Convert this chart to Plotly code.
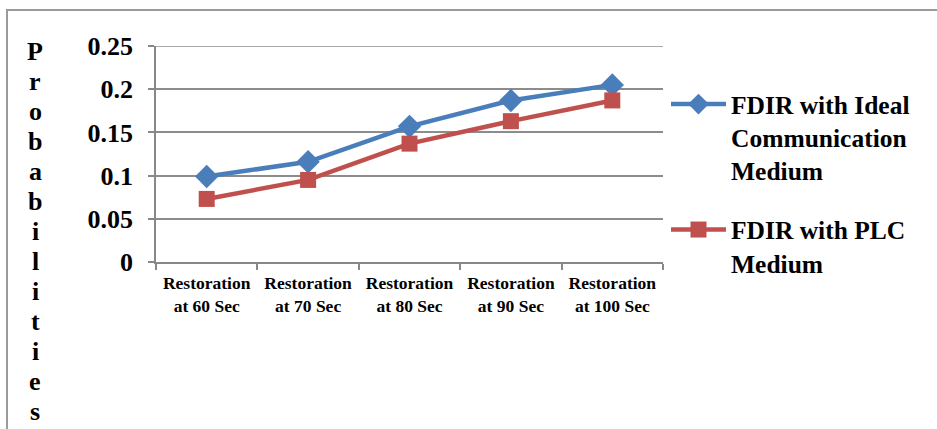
import plotly.graph_objects as go

# Restoration scenarios and probabilities per communication medium
categories = ["Restoration<br>at 60 Sec", "Restoration<br>at 70 Sec",
              "Restoration<br>at 80 Sec", "Restoration<br>at 90 Sec",
              "Restoration<br>at 100 Sec"]
ideal_medium = [0.099, 0.116, 0.157, 0.187, 0.205]
plc_medium = [0.073, 0.095, 0.137, 0.163, 0.187]
series_names = ["FDIR with Ideal<br>Communication<br>Medium",
                "FDIR with PLC<br>Medium"]
y_title = "Probabilities"

W, H = 937, 429
L, R, T, B = 156, 274, 46, 167
pw, ph = W - L - R, H - T - B

def px_x(x):
    return (x - L) / pw

def px_y(y):
    return (H - B - y) / ph

FONT = "Liberation Serif"

fig = go.Figure()
fig.add_trace(go.Scatter(
    x=categories, y=ideal_medium, name=series_names[0], mode="lines+markers",
    line=dict(color="#4A7EBB", width=4.5),
    marker=dict(symbol="diamond", size=18, color="#4A7EBB"),
    legendgroup="a"))
fig.add_trace(go.Scatter(
    x=categories, y=plc_medium, name=series_names[1], mode="lines+markers",
    line=dict(color="#C0504D", width=4.5),
    marker=dict(symbol="square", size=16, color="#C0504D"),
    legendgroup="b"))

fig.update_layout(
    width=W, height=H,
    margin=dict(l=L, r=R, t=T, b=B),
    paper_bgcolor="white", plot_bgcolor="white",
    font=dict(family=FONT, color="black"),
    legend=dict(x=px_x(666), y=px_y(81), xanchor="left", yanchor="top",
                font=dict(size=25.5, family=FONT, color="black", weight="bold"),
                itemwidth=55, valign="top", tracegroupgap=23,
                traceorder="grouped", bgcolor="rgba(0,0,0,0)"),
    xaxis=dict(showgrid=False, showline=True, linecolor="#888", linewidth=1.5,
               ticks="outside", tickson="boundaries", ticklen=6,
               tickcolor="#888", tickwidth=1.5, ticklabelstandoff=4,
               tickfont=dict(size=17.5, family=FONT, weight="bold"),
               range=[-0.5, 4.5]),
    yaxis=dict(range=[0, 0.25], dtick=0.05, showgrid=True, gridcolor="#8c8c8c",
               gridwidth=1.5, showline=True, linecolor="#888", linewidth=1.5,
               ticks="outside", ticklen=6, tickcolor="#888", tickwidth=1.5,
               ticklabelstandoff=10, zeroline=False,
               tickfont=dict(size=26, family=FONT, weight="bold")),
)

# Top grid line of the plot frame
fig.add_shape(type="line", xref="paper", yref="y", x0=0, x1=1, y0=0.25, y1=0.25,
              line=dict(color="#8c8c8c", width=1.5), layer="below")

# Outer chart border
fig.add_shape(type="rect", xref="paper", yref="paper",
              x0=px_x(7), x1=px_x(960), y0=px_y(10), y1=px_y(460),
              line=dict(color="#9a9a9a", width=2), fillcolor="rgba(0,0,0,0)")

# Vertical axis title, one letter per row
for i, ch in enumerate(y_title):
    fig.add_annotation(text=ch, xref="paper", yref="paper",
                       x=px_x(35), y=px_y(51 + 30 * i),
                       xanchor="center", yanchor="middle",
                       showarrow=False,
                       font=dict(size=26, family=FONT, color="black",
                                 weight="bold"))

fig.write_html("out.html")
